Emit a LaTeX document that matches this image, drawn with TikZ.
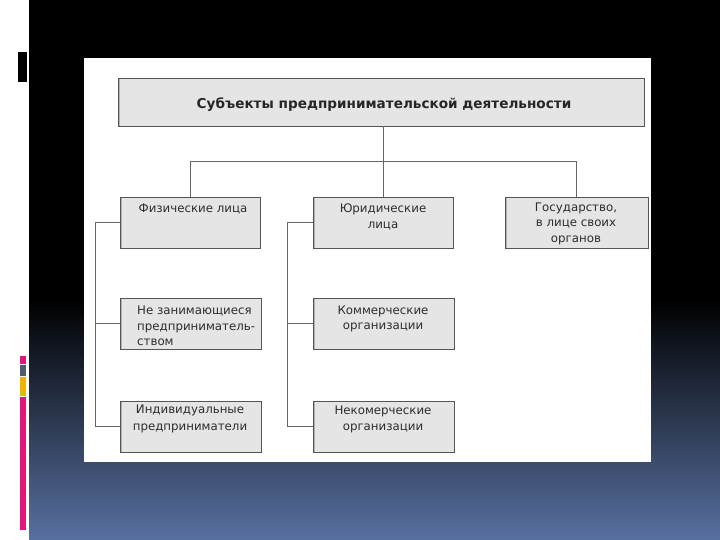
\documentclass[tikz,border=0pt]{standalone}
\usepackage{fontspec}
\setmainfont{DejaVu Sans}
\usetikzlibrary{calc}
\definecolor{bgblue}{RGB}{88,112,160}
\definecolor{boxfill}{RGB}{229,229,229}
\definecolor{boxline}{RGB}{85,85,85}
\definecolor{txt}{RGB}{45,45,45}
\definecolor{pinkbar}{RGB}{226,22,122}
\definecolor{graybar}{RGB}{80,92,105}
\definecolor{yellowbar}{RGB}{240,180,0}
\tikzset{
  box/.style={draw=boxline, line width=0.8pt, fill=boxfill, inner sep=0pt,
    path picture={\fill[gray!60] (path picture bounding box.north west) rectangle ([xshift=2.2pt]path picture bounding box.south west);}},
  lbl/.style={inner sep=0pt, text=txt, font=\fontsize{11.8}{15.5}\selectfont, align=center, anchor=north},
  conn/.style={draw=boxline!90, line width=1pt},
}
\begin{document}
\begin{tikzpicture}[x=1pt,y=-1pt]
\useasboundingbox (0,0) rectangle (720,540);
% background
\fill[white] (0,0) rectangle (720,540);
\fill[black] (29,0) rectangle (720,300);
\shade[top color=black, bottom color=bgblue] (29,299.5) rectangle (720,540);
% left decorations
\fill[black] (17.5,52) rectangle (26.5,82);
\fill[pinkbar] (20,356) rectangle (26,363.5);
\fill[graybar] (20,364.5) rectangle (26,376);
\fill[yellowbar] (20,377) rectangle (26,396);
\fill[pinkbar] (20,397) rectangle (26,530);
% white panel
\fill[white] (84,58) rectangle (651,462);
% boxes
\node[box, minimum width=526pt, minimum height=48pt] (title) at (381,102) {};
\node[inner sep=0pt, text=black!85, font=\bfseries\fontsize{13.6}{16}\selectfont] (titlet) at (384,104.5) {Субъекты предпринимательской деятельности};
\node[box, minimum width=140pt, minimum height=51pt] (fiz) at (190,222.5) {};
\node[box, minimum width=140pt, minimum height=51pt] (yur) at (383,222.5) {};
\node[box, minimum width=143pt, minimum height=51pt] (gos) at (576.5,222.5) {};
\node[box, minimum width=141pt, minimum height=51pt] (ne) at (190.5,323.5) {};
\node[box, minimum width=141pt, minimum height=51pt] (kom) at (383.5,323.5) {};
\node[box, minimum width=141pt, minimum height=51pt] (ind) at (190.5,426.5) {};
\node[box, minimum width=141pt, minimum height=51pt] (nek) at (383.5,426.5) {};
% labels
\node[lbl] (fizt) at (193,204) {Физические лица};
\node[lbl] (yurt) at (383,204) {Юридические\\лица};
\node[lbl] (gost) at (576,202.5) {Государство,\\в лице своих\\органов};
\node[lbl, align=left, anchor=north west] (net) at (137,306) {Не занимающиеся\\предприниматель-\\ством};
\node[lbl] (komt) at (383,305.5) {Коммерческие\\организации};
\node[lbl] (indt) at (190,405) {Индивидуальные\\[1pt]предприниматели};
\node[lbl] (nekt) at (383,406) {Некомерческие\\организации};
% connectors
\coordinate (hub) at (383,161.5);
\draw[conn] (hub |- title.south) -- (hub);
\draw[conn] (fiz.north) |- (hub) -| (gos.north);
\draw[conn] (hub) -- (yur.north);
\coordinate (lb) at (95.5,0);
\coordinate (mb) at (287.5,0);
\draw[conn] (fiz.west) -- (fiz.west -| lb) |- (ind.west);
\draw[conn] (ne.west) -- (ne.west -| lb);
\draw[conn] (yur.west) -- (yur.west -| mb) |- (nek.west);
\draw[conn] (kom.west) -- (kom.west -| mb);
\end{tikzpicture}
\end{document}
